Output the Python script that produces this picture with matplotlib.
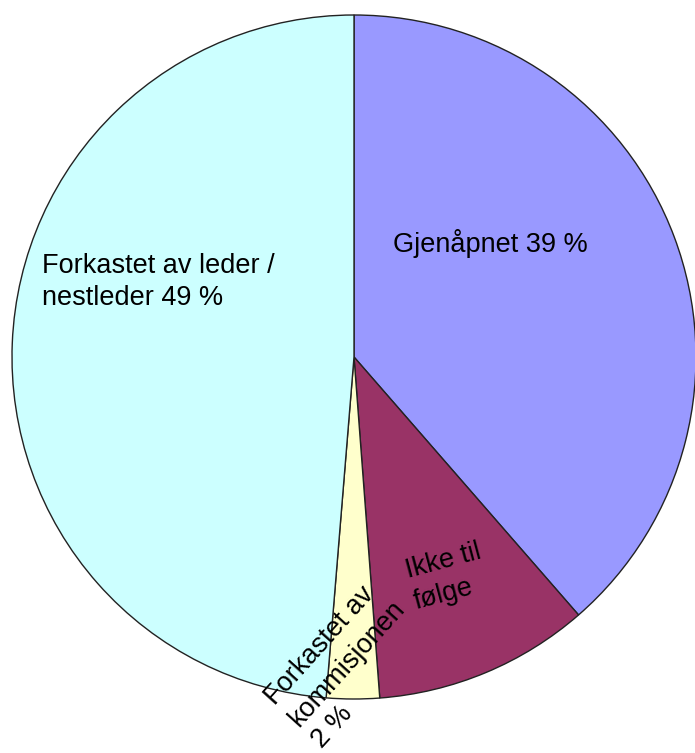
import matplotlib.pyplot as plt

plt.rcParams['font.family'] = ['Liberation Sans', 'DejaVu Sans']

# andeler (lest av bildet), med klokka fra kl. 12
kategorier = ['Gjenåpnet', 'Ikke til følge', 'Forkastet av kommisjonen', 'Forkastet av leder / nestleder']
andeler = [38.6, 10.2, 2.5, 48.7]
farger = ['#9999FF', '#993366', '#FFFFCC', '#CCFFFF']
etiketter = ['Gjenåpnet 39 %', 'Ikke til\nfølge', 'Forkastet av\nkommisjonen\n2 %', 'Forkastet av leder /\nnestleder 49 %']

W, H = 695, 753
fig = plt.figure(figsize=(W / 100, H / 100), dpi=100)
ax = fig.add_axes([0, 0, 1, 1])

ax.pie(andeler, colors=farger, startangle=90, counterclock=False,
       center=(354, H - 357), radius=342, frame=True,
       wedgeprops=dict(edgecolor='#222222', linewidth=1.0))
ax.set_xlim(0, W)
ax.set_ylim(0, H)
ax.set_aspect('equal')
ax.axis('off')

# etiketter: start av siste linjes grunnlinje (x, y fra toppen), rotasjon
plasser = [(393, 252, 0), (415, 603, 15), (318, 745, 48), (42, 299, 0)]
for tekst, (x, y, rot) in zip(etiketter, plasser):
    ax.text(x, H - y, tekst, fontsize=19.5, ha='left', va='baseline',
            rotation=rot, rotation_mode='anchor', linespacing=1.3, color='black')

fig.savefig('out.png', dpi=100)
